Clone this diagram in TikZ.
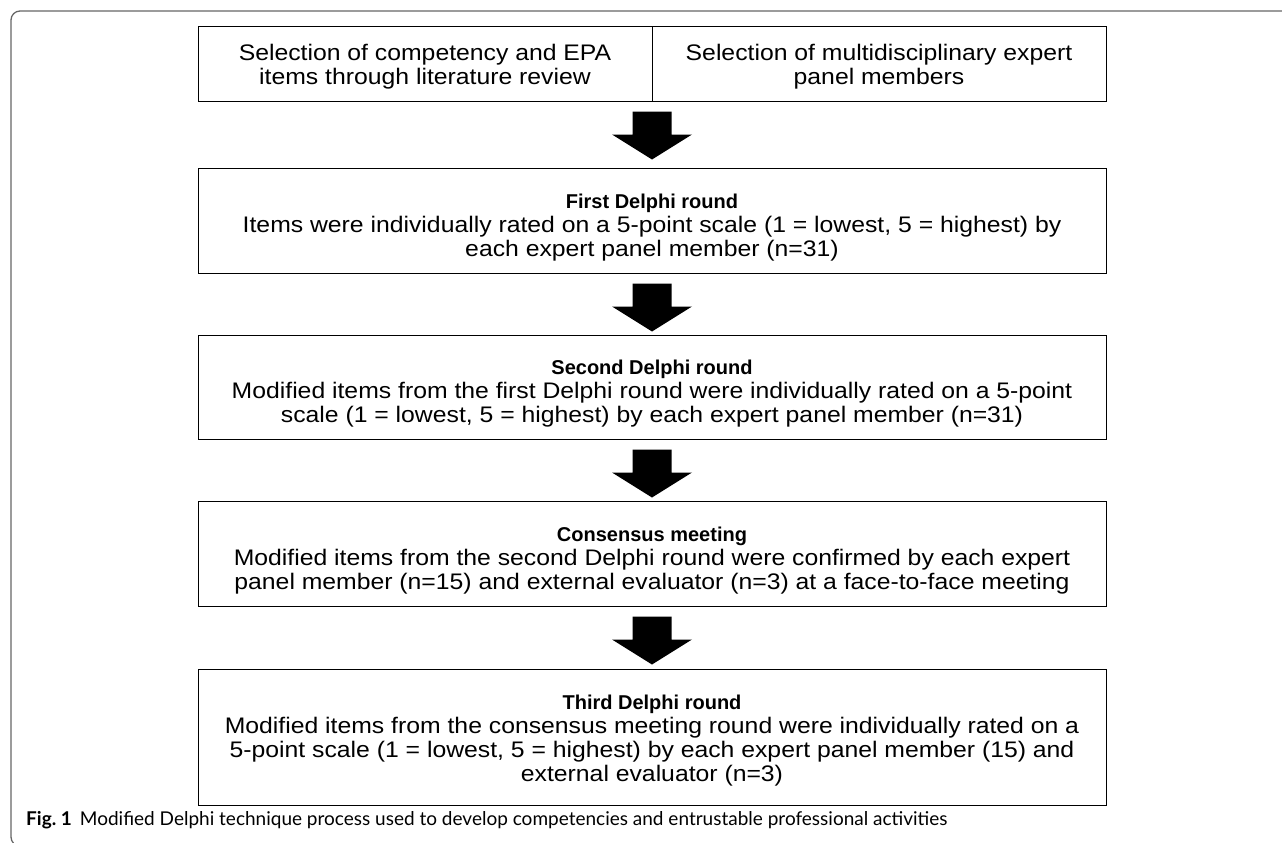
\documentclass[tikz,border=0pt]{standalone}
\usepackage{fontspec}
\setmainfont{Liberation Sans}
\newfontfamily\bodyfont[FakeStretch=1.1]{Liberation Sans}
\newfontfamily\capfont{Lato}
\usetikzlibrary{calc}
\newcommand\ttl[1]{{\rmfamily\bfseries\fontsize{20}{24}\selectfont #1}}
\newcommand\bigarrow[1]{%
  \fill ($(#1)+(-19.5,10)$) -- ($(#1)+(19.5,10)$) -- ($(#1)+(19.5,33)$) -- ($(#1)+(40,33)$)
    -- ($(#1)+(0,58)$) -- ($(#1)+(-40,33)$) -- ($(#1)+(-19.5,33)$) -- cycle;}
\begin{document}
\begin{tikzpicture}[x=1pt,y=-1pt,
  box/.style={draw, line width=1pt, minimum width=908pt, inner sep=0pt},
  half/.style={box, minimum width=454pt, minimum height=74pt},
  txt/.style={inner sep=0pt, align=center, font=\bodyfont\fontsize{22.5}{24}\selectfont},
  frame/.style={draw=black!60, line width=1.3pt, rounded corners=9pt}]
\useasboundingbox (0,0) rectangle (1282,843);
\clip (0,0) rectangle (1282,843);
\draw[frame] (1300,11) -- (11,11) -- (11,846) -- (40,846);
% boxes
\node[half] (lit) at (425,64) {};
\node[half] (pan) at (879,64) {};
\node[box, minimum height=105pt] (r1) at (652,220.5) {};
\node[box, minimum height=104pt] (r2) at (652,387) {};
\node[box, minimum height=105pt] (cm) at (652,553.5) {};
\node[box, minimum height=136pt] (r3) at (652,737) {};
% texts
\node[txt] (litt) at ($(lit.center)+(0,3)$) {Selection of competency and EPA\\items through literature review};
\node[txt] (pant) at ($(pan.center)+(0,3)$) {Selection of multidisciplinary expert\\panel members};
\node[txt] (r1t) at ($(r1.center)+(0,7)$) {\ttl{First Delphi round}\\Items were individually rated on a 5-point scale (1 = lowest, 5 = highest) by\\each expert panel member (n=31)};
\node[txt] (r2t) at ($(r2.center)+(0,7)$) {\ttl{Second Delphi round}\\Modified items from the first Delphi round were individually rated on a 5-point\\scale (1 = lowest, 5 = highest) by each expert panel member (n=31)};
\node[txt] (cmt) at ($(cm.center)+(0,7)$) {\ttl{Consensus meeting}\\Modified items from the second Delphi round were confirmed by each expert\\panel member (n=15) and external evaluator (n=3) at a face-to-face meeting};
\node[txt] (r3t) at ($(r3.center)+(0,4)$) {\ttl{Third Delphi round}\\Modified items from the consensus meeting round were individually rated on a\\5-point scale (1 = lowest, 5 = highest) by each expert panel member (15) and\\external evaluator (n=3)};
\coordinate (top) at ($(lit.south east)!0.5!(pan.south west)$);
\bigarrow{top}
\bigarrow{r1.south}
\bigarrow{r2.south}
\bigarrow{cm.south}
\node[anchor=west, inner sep=0pt, font=\capfont\fontsize{19}{22}\selectfont] (cap) at (26,820) {\textbf{Fig.~1}\hspace{8pt}Modified Delphi technique process used to develop competencies and entrustable professional activities};
\end{tikzpicture}
\end{document}
